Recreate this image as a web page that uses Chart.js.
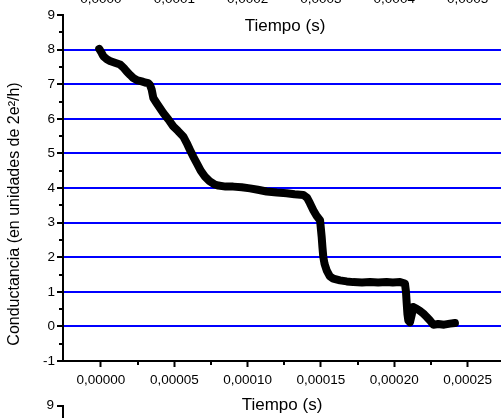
<!DOCTYPE html>
<html>
<head>
<meta charset="utf-8">
<script src="https://cdn.jsdelivr.net/npm/chart.js@4/dist/chart.umd.min.js"></script>
<style>
  html, body { margin: 0; padding: 0; background: #fff; }
  #wrap { width: 501px; height: 418px; }
</style>
</head>
<body>
<div id="wrap"><canvas id="c" width="501" height="418"></canvas></div>
<script>
// ---- data (time in seconds, conductance in units of 2e²/h) ----
const timeSeconds = [
  -1.2e-6, 0.5e-6, 1.6e-6, 4.0e-6, 6.1e-6, 9.5e-6, 13.0e-6, 15.5e-6, 17.5e-6, 20.0e-6,
  22.0e-6, 25.0e-6, 27.8e-6, 30.0e-6, 32.3e-6, 33.4e-6, 34.6e-6, 35.7e-6, 38.0e-6, 42.5e-6,
  46.0e-6, 49.3e-6, 52.5e-6, 56.1e-6, 58.5e-6, 60.7e-6, 63.0e-6, 65.3e-6, 68.0e-6, 70.9e-6,
  74.0e-6, 77.7e-6, 80.0e-6, 85.0e-6, 90.2e-6, 96.0e-6, 101.6e-6, 107.0e-6, 113.0e-6, 120.0e-6,
  126.6e-6, 132.0e-6, 138.0e-6, 140.5e-6, 142.5e-6, 144.8e-6, 147.0e-6, 149.4e-6, 150.5e-6, 151.0e-6,
  151.6e-6, 152.5e-6, 153.9e-6, 156.0e-6, 158.4e-6, 163.0e-6, 167.6e-6, 172.0e-6, 178.0e-6, 183.5e-6,
  189.0e-6, 194.8e-6, 199.0e-6, 204.0e-6, 207.3e-6, 208.0e-6, 208.5e-6, 209.0e-6, 209.6e-6, 210.7e-6,
  212.0e-6, 213.0e-6, 215.3e-6, 217.5e-6, 219.9e-6, 222.0e-6, 224.4e-6, 226.7e-6, 230.0e-6, 234.0e-6,
  238.0e-6, 241.4e-6
];
const conductance = [
  8.02, 7.90, 7.81, 7.72, 7.67, 7.62, 7.57, 7.47, 7.37, 7.26,
  7.18, 7.11, 7.08, 7.05, 7.03, 6.98, 6.84, 6.60, 6.45, 6.17,
  5.98, 5.78, 5.65, 5.49, 5.30, 5.10, 4.90, 4.72, 4.50, 4.33,
  4.20, 4.10, 4.07, 4.04, 4.04, 4.02, 3.99, 3.95, 3.90, 3.87,
  3.85, 3.82, 3.80, 3.72, 3.56, 3.36, 3.20, 3.07, 2.59, 2.30,
  2.01, 1.80, 1.62, 1.45, 1.38, 1.33, 1.30, 1.28, 1.27, 1.28,
  1.27, 1.28, 1.27, 1.28, 1.24, 1.00, 0.66, 0.35, 0.17, 0.12,
  0.35, 0.56, 0.51, 0.45, 0.37, 0.28, 0.17, 0.05, 0.07, 0.05,
  0.08, 0.10
];

const xTickValues = [0, 0.00005, 0.0001, 0.00015, 0.0002, 0.00025];
const xTickLabels = ['0,00000', '0,00005', '0,00010', '0,00015', '0,00020', '0,00025'];
const xMinorValues = [0.000025, 0.000075, 0.000125, 0.000175, 0.000225];
const yTickValues = [-1, 0, 1, 2, 3, 4, 5, 6, 7, 8, 9];
const yMinorValues = [-0.5, 0.5, 1.5, 2.5, 3.5, 4.5, 5.5, 6.5, 7.5, 8.5];
const quantizedLevels = [0, 1, 2, 3, 4, 5, 6, 7, 8];
// partial tick labels of the (cropped) chart above this one
const upperChartTickLabels = ['0,0000', '0,0001', '0,0002', '0,0003', '0,0004', '0,0005'];
const upperChartTickValues = [0, 0.00005, 0.0001, 0.00015, 0.0002, 0.00025];

const FONT = "'Liberation Sans', Arial, sans-serif";

const points = timeSeconds.map((t, i) => ({ x: t, y: conductance[i] }));

const extras = {
  id: 'extras',
  afterDraw(chart) {
    const ctx = chart.ctx;
    const xs = chart.scales.x, ys = chart.scales.y;
    const area = chart.chartArea;
    ctx.save();
    ctx.strokeStyle = '#000';
    ctx.lineWidth = 2;
    // minor ticks
    ctx.beginPath();
    xMinorValues.forEach(v => {
      const px = Math.round(xs.getPixelForValue(v));
      ctx.moveTo(px, area.bottom); ctx.lineTo(px, area.bottom + 4);
    });
    yMinorValues.forEach(v => {
      const py = Math.round(ys.getPixelForValue(v));
      ctx.moveTo(area.left, py); ctx.lineTo(area.left - 4, py);
    });
    ctx.stroke();

    ctx.fillStyle = '#000';
    // y-axis title (rotated)
    ctx.save();
    ctx.translate(15, 214);
    ctx.rotate(-Math.PI / 2);
    ctx.font = '16px ' + FONT;
    ctx.textAlign = 'center';
    ctx.textBaseline = 'middle';
    ctx.fillText('Conductancia (en unidades de 2e\u00B2/h)', 0, 0);
    ctx.restore();

    // pieces of the neighbouring charts that are cropped in the reference
    ctx.font = '13.5px ' + FONT;
    ctx.textAlign = 'center';
    ctx.textBaseline = 'alphabetic';
    upperChartTickLabels.forEach((lab, i) => {
      ctx.fillText(lab, xs.getPixelForValue(upperChartTickValues[i]), 3);
    });
    ctx.font = '17px ' + FONT;
    ctx.textBaseline = 'middle';
    ctx.fillText('Tiempo (s)', 285, 26);

    // top of the next chart's y-axis
    ctx.font = '13.5px ' + FONT;
    ctx.textAlign = 'right';
    ctx.fillText('9', 54, 405);
    ctx.beginPath();
    ctx.moveTo(57, 406); ctx.lineTo(63, 406); ctx.lineTo(63, 418);
    ctx.stroke();
    ctx.restore();
  }
};

new Chart(document.getElementById('c'), {
  type: 'scatter',
  data: {
    datasets: [{
      data: points,
      showLine: true,
      borderColor: '#000',
      backgroundColor: '#000',
      borderWidth: 8,
      borderJoinStyle: 'round',
      borderCapStyle: 'round',
      pointRadius: 0,
      tension: 0
    }]
  },
  options: {
    responsive: false,
    animation: false,
    events: [],
    layout: { padding: { top: 15, right: 0, left: 0, bottom: 0 } },
    plugins: { legend: { display: false }, tooltip: { enabled: false } },
    scales: {
      x: {
        type: 'linear',
        min: -0.0000259,
        max: 0.0002728,
        afterFit(s) { s.height = 57; },
        afterBuildTicks(s) { s.ticks = xTickValues.map(v => ({ value: v })); },
        ticks: {
          autoSkip: false, maxRotation: 0, padding: 5, color: '#000',
          font: { family: FONT, size: 13.5 },
          callback: (v, i) => xTickLabels[i]
        },
        grid: { drawOnChartArea: false, tickLength: 6, tickColor: '#000', tickWidth: 2 },
        border: { display: true, color: '#000', width: 2 },
        title: {
          display: true, text: 'Tiempo (s)', color: '#000',
          font: { family: FONT, size: 17 }, padding: { top: 0, bottom: 2 }
        }
      },
      y: {
        type: 'linear',
        min: -1,
        max: 9,
        afterFit(s) { s.width = 63; },
        afterBuildTicks(s) { s.ticks = yTickValues.map(v => ({ value: v })); },
        ticks: {
          padding: 2, color: '#000',
          font: { family: FONT, size: 13.5 },
          callback: v => String(v)
        },
        grid: {
          drawOnChartArea: true,
          color: c => (c.tick && quantizedLevels.includes(c.tick.value)) ? '#0000ff' : 'rgba(0,0,0,0)',
          lineWidth: 2,
          tickLength: 6,
          tickColor: '#000',
          tickWidth: 2
        },
        border: { display: true, color: '#000', width: 2 }
      }
    }
  },
  plugins: [extras]
});
</script>
</body>
</html>
